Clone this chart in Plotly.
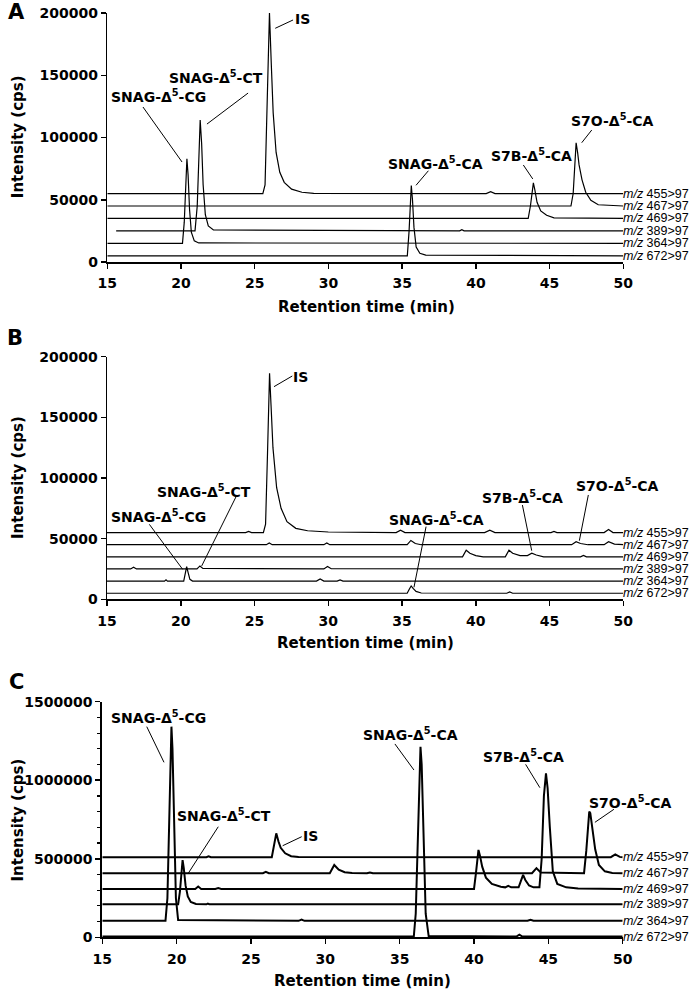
import plotly.graph_objects as go

W, H = 697, 992

channels = ["455>97", "467>97", "469>97", "389>97", "364>97", "672>97"]
x_ticks = [15, 20, 25, 30, 35, 40, 45, 50]
X_MIN, X_MAX = 15, 50

# ---------------- Panel A (retention time min, intensity cps) ----------------
a_t455 = [15, 25.55, 25.7, 25.82, 25.92, 26.0, 26.12, 26.25, 26.45, 26.7, 27.0, 27.5, 28.2, 29.0, 40.7, 41.0, 41.3, 50]
a_i455 = [55000, 55000, 62000, 110000, 170000, 200000, 160000, 120000, 88000, 72000, 64000, 58500, 56000, 55200, 55000, 56500, 55000, 55000]
a_t467 = [15, 46.45, 46.6, 46.72, 46.8, 46.9, 47.0, 47.2, 47.45, 47.8, 48.3, 50]
a_i467 = [45000, 45000, 55000, 85000, 95800, 88000, 78000, 66000, 56000, 49500, 46000, 45000]
a_t469 = [15, 43.55, 43.7, 43.82, 43.9, 44.0, 44.15, 44.4, 44.8, 45.3, 50]
a_i469 = [35000, 35000, 45000, 58000, 63500, 58000, 48000, 41000, 37500, 35500, 35000]
a_t389 = [15.6, 20.95, 21.1, 21.22, 21.3, 21.4, 21.5, 21.65, 21.85, 22.2, 38.9, 39.05, 39.2, 50]
a_i389 = [25000, 25000, 45000, 95000, 114000, 95000, 62000, 38000, 29000, 25800, 25000, 26000, 25000, 25000]
a_t364 = [15, 20.1, 20.22, 20.33, 20.4, 20.48, 20.58, 20.7, 20.9, 21.2, 50]
a_i364 = [15000, 15000, 32000, 70000, 83000, 70000, 42000, 24000, 17000, 15300, 15000]
a_t672 = [15, 35.35, 35.47, 35.56, 35.62, 35.7, 35.8, 35.95, 36.2, 36.6, 50]
a_i672 = [5000, 5000, 25000, 55000, 61500, 50000, 28000, 12000, 7000, 5500, 5000]

# ---------------- Panel B ----------------
b_t455 = [15, 24.4, 24.6, 24.8, 25.6, 25.75, 25.88, 25.96, 26.02, 26.12, 26.25, 26.5, 26.8, 27.2, 27.8, 28.6, 30.0,
          34.6, 34.9, 35.2, 40.6, 40.95, 41.3, 45.1, 45.3, 45.5, 48.7, 49.0, 49.3, 50]
b_i455 = [55000, 55000, 56000, 55000, 55000, 62000, 120000, 175000, 186300, 160000, 125000, 92000, 75000, 64000, 58500, 56500, 55500,
          55000, 57000, 55000, 55000, 57000, 55000, 55000, 56000, 55000, 55000, 57500, 55000, 55000]
b_t467 = [15, 25.8, 26.0, 26.2, 29.7, 29.9, 30.1, 35.35, 35.6, 35.9, 36.3, 46.5, 46.8, 47.1, 47.6, 48.7, 49.0, 49.4, 50]
b_i467 = [45000, 45000, 46500, 45000, 45000, 46500, 45000, 45000, 48500, 46000, 45000, 45000, 47500, 46000, 45000, 45000, 47500, 45500, 45000]
b_t469 = [15, 39.1, 39.35, 39.6, 40.0, 40.5, 42.0, 42.25, 42.5, 43.0, 43.5, 43.8, 44.1, 44.6, 47.1, 47.3, 47.5, 50]
b_i469 = [35000, 35000, 40500, 38000, 36000, 35000, 35000, 40500, 38000, 36000, 36000, 38000, 36500, 35000, 35000, 36200, 35000, 35000]
b_t389 = [15, 16.6, 16.8, 17.0, 21.1, 21.3, 21.5, 29.7, 29.95, 30.2, 50]
b_i389 = [25000, 25000, 26500, 25000, 25000, 27500, 25500, 25000, 27000, 25200, 25000]
b_t364 = [15, 18.9, 19.0, 19.1, 20.2, 20.3, 20.4, 20.5, 20.62, 20.8, 29.2, 29.45, 29.7, 30.6, 30.8, 31.0, 50]
b_i364 = [15000, 15000, 16000, 15000, 15000, 20000, 27000, 22000, 16500, 15000, 15000, 16800, 15000, 15000, 16000, 15000, 15000]
b_t672 = [15, 35.35, 35.5, 35.62, 35.75, 35.95, 36.3, 42.1, 42.3, 42.5, 50]
b_i672 = [5000, 5000, 8500, 11000, 9000, 6500, 5200, 5000, 6000, 5000, 5000]

# ---------------- Panel C ----------------
c_t455 = [15, 22.0, 22.15, 22.3, 26.4, 26.55, 26.7, 26.85, 27.0, 27.3, 27.7, 28.2, 49.2, 49.5, 49.8, 50]
c_i455 = [510000, 510000, 516000, 510000, 510000, 590000, 662000, 610000, 570000, 535000, 516000, 511000, 510000, 528000, 512000, 510000]
c_t467 = [15, 25.8, 26.0, 26.2, 30.3, 30.6, 30.9, 31.3, 31.8, 32.8, 33.0, 33.2, 43.9, 44.2, 44.5,
          47.4, 47.55, 47.68, 47.75, 47.82, 47.95, 48.15, 48.4, 48.8, 49.3, 50]
c_i467 = [408000, 408000, 417000, 408000, 408000, 460000, 430000, 414000, 409000, 408000, 413000, 408000, 408000, 440000, 412000,
          408000, 550000, 760000, 800000, 790000, 700000, 560000, 460000, 420000, 410000, 408000]
c_t469 = [15, 21.25, 21.45, 21.65, 22.6, 22.8, 23.0, 40.0, 40.12, 40.22, 40.3, 40.4, 40.55, 40.8, 41.2, 41.8,
          42.1, 42.3, 42.5, 43.0, 43.15, 43.3, 43.45, 43.7, 44.0, 44.4, 44.55, 44.7, 44.84, 44.95, 45.1, 45.3,
          45.6, 46.2, 47.0, 50]
c_i469 = [308000, 308000, 323000, 308000, 308000, 313000, 308000, 308000, 400000, 520000, 556000, 520000, 450000, 380000, 340000, 322000,
          318000, 328000, 318000, 318000, 360000, 397000, 365000, 330000, 318000, 318000, 500000, 900000, 1044000, 950000, 700000, 420000,
          340000, 318000, 310000, 308000]
c_t389 = [15, 20.1, 20.22, 20.33, 20.4, 20.48, 20.6, 20.75, 20.95, 21.3, 22.0, 22.1, 22.2, 50]
c_i389 = [210000, 210000, 290000, 450000, 492000, 440000, 330000, 260000, 225000, 212000, 210000, 215000, 210000, 210000]
c_t364 = [15, 19.25, 19.38, 19.5, 19.6, 19.65, 19.72, 19.82, 19.95, 20.1, 28.2, 28.4, 28.6, 43.6, 43.8, 44.0, 50]
c_i364 = [105000, 105000, 250000, 800000, 1250000, 1341000, 1200000, 700000, 250000, 110000, 105000, 113000, 105000, 105000, 112000, 105000, 105000]
c_t672 = [15, 35.95, 36.08, 36.2, 36.32, 36.4, 36.48, 36.6, 36.75, 36.95, 42.85, 43.05, 43.25, 50]
c_i672 = [5000, 5000, 150000, 600000, 1100000, 1213000, 1100000, 600000, 150000, 8000, 5000, 17000, 5000, 5000]

# compound labels
compounds = ["SNAG-Δ<sup>5</sup>-CG", "SNAG-Δ<sup>5</sup>-CT", "IS",
             "SNAG-Δ<sup>5</sup>-CA", "S7B-Δ<sup>5</sup>-CA", "S7O-Δ<sup>5</sup>-CA"]

# label placement (text x, text y, leader x0, y0, x1, y1) per panel
a_lab = [(18.44, 133300, 17.42, 124500, 20.07, 80300),
         (22.37, 148600, 21.76, 110800, 24.55, 135700),
         (28.21, 195200, 26.39, 187700, 27.6, 194400),
         (37.23, 79900, 35.94, 61600, 36.78, 73300),
         (43.79, 86200, 43.86, 66700, 43.22, 77900),
         (49.24, 114100, 47.18, 95800, 47.86, 106000)]
b_lab = [(18.46, 68700, 17.87, 61800, 20.13, 24700),
         (21.58, 89300, 21.42, 27500, 23.75, 84600),
         (28.15, 183300, 26.32, 175300, 27.56, 184100),
         (37.31, 66200, 36.63, 59900, 35.81, 9900),
         (43.14, 84600, 43.16, 77700, 43.79, 40100),
         (49.64, 94600, 47.63, 86000, 47.02, 48300)]
c_lab = [(18.78, 1399500, 17.99, 1341000, 19.15, 1114000),
         (23.18, 776800, 22.8, 704000, 20.78, 407500),
         (29.0, 641800, 27.13, 583000, 28.41, 640500),
         (35.73, 1294400, 34.68, 1231000, 35.96, 1065000),
         (43.31, 1154300, 43.47, 1101000, 44.43, 952500),
         (50.52, 863400, 49.41, 815000, 48.13, 732000)]

panels = [
    dict(letter="A", traces=[(a_t455, a_i455), (a_t467, a_i467), (a_t469, a_i469), (a_t389, a_i389), (a_t364, a_i364), (a_t672, a_i672)],
         labels=a_lab, ymax=200000, dtick=50000, minor=None,
         xdom=(107.3, 623.3), ydom=(13, 262), lw=1.2, alw=1.5,
         letter_pos=(16, 12.5), ytitle_pos=(17.5, 136.7), xtitle_pos=(366, 306.5)),
    dict(letter="B", traces=[(b_t455, b_i455), (b_t467, b_i467), (b_t469, b_i469), (b_t389, b_i389), (b_t364, b_i364), (b_t672, b_i672)],
         labels=b_lab, ymax=200000, dtick=50000, minor=None,
         xdom=(107.0, 623.3), ydom=(356.7, 599.3), lw=1.2, alw=1.5,
         letter_pos=(15, 338), ytitle_pos=(17.5, 477.5), xtitle_pos=(365, 643)),
    dict(letter="C", traces=[(c_t455, c_i455), (c_t467, c_i467), (c_t469, c_i469), (c_t389, c_i389), (c_t364, c_i364), (c_t672, c_i672)],
         labels=c_lab, ymax=1500000, dtick=500000, minor=100000,
         xdom=(102.3, 622.7), ydom=(701.7, 937.3), lw=2.0, alw=2.0,
         letter_pos=(16, 682), ytitle_pos=(17.5, 820), xtitle_pos=(362.5, 980.8)),
]

FONT = "DejaVu Sans"
LFONT = "Liberation Sans, Arial"
fig = go.Figure()
annotations = []
shapes = []

for k, p in enumerate(panels):
    sfx = "" if k == 0 else str(k + 1)
    xa, ya = "x" + sfx, "y" + sfx
    for (t, v), ch in zip(p["traces"], channels):
        fig.add_trace(go.Scatter(x=t, y=v, mode="lines", xaxis=xa, yaxis=ya,
                                 line=dict(color="black", width=p["lw"]),
                                 showlegend=False, hoverinfo="skip"))
        annotations.append(dict(x=1.0, y=v[-1], xref=xa + " domain", yref=ya, xanchor="left", yanchor="middle",
                                text="<i>m/z</i> " + ch.replace(">", "&gt;"), showarrow=False,
                                font=dict(family=LFONT, size=12.5, color="black"), borderpad=0, xshift=-1))
    for name, (tx, ty, lx0, ly0, lx1, ly1) in zip(compounds, p["labels"]):
        annotations.append(dict(x=(tx - X_MIN) / (X_MAX - X_MIN), y=ty, xref=xa + " domain", yref=ya,
                                xanchor="center", yanchor="middle", text=name, showarrow=False,
                                font=dict(family=FONT, size=14, color="black", weight="bold")))
        shapes.append(dict(type="line", x0=lx0, y0=ly0, x1=lx1, y1=ly1, xref=xa, yref=ya,
                           line=dict(color="black", width=1)))
    x0, x1 = p["xdom"]
    y0, y1 = p["ydom"]
    xaxis = dict(domain=[x0 / W, x1 / W], range=[X_MIN, X_MAX], tickvals=x_ticks, ticks="outside", ticklen=5,
                 tickwidth=1.5, tickcolor="black", showline=True, linecolor="black", linewidth=p["alw"],
                 showgrid=False, zeroline=False, anchor=ya, ticklabelstandoff=3, automargin=False,
                 tickfont=dict(family=FONT, size=14, color="black", weight="bold"))
    yaxis = dict(domain=[1 - y1 / H, 1 - y0 / H], range=[0, p["ymax"]], dtick=p["dtick"], tick0=0,
                 ticks="outside", ticklen=5, tickwidth=1.5, tickcolor="black", showline=True,
                 linecolor="black", linewidth=p["alw"], showgrid=False, zeroline=False, anchor=xa,
                 automargin=False, tickformat="d",
                 tickfont=dict(family=FONT, size=14, color="black", weight="bold"))
    if p["minor"]:
        yaxis["minor"] = dict(dtick=p["minor"], ticks="outside", ticklen=3, tickwidth=1.2, tickcolor="black", showgrid=False)
    fig.update_layout(**{"xaxis" + sfx: xaxis, "yaxis" + sfx: yaxis})

    lx, ly = p["letter_pos"]
    annotations.append(dict(x=lx / W, y=1 - ly / H, xref="paper", yref="paper", text=p["letter"],
                            showarrow=False, xanchor="center", yanchor="middle",
                            font=dict(family=FONT, size=21, color="black", weight="bold")))
    tx, ty = p["ytitle_pos"]
    annotations.append(dict(x=tx / W, y=1 - ty / H, xref="paper", yref="paper", text="Intensity (cps)",
                            showarrow=False, xanchor="center", yanchor="middle", textangle=-90,
                            font=dict(family=FONT, size=15, color="black", weight="bold")))
    tx, ty = p["xtitle_pos"]
    annotations.append(dict(x=tx / W, y=1 - ty / H, xref="paper", yref="paper", text="Retention time (min)",
                            showarrow=False, xanchor="center", yanchor="middle",
                            font=dict(family=FONT, size=15, color="black", weight="bold")))

fig.update_layout(width=W, height=H, autosize=False, margin=dict(l=0, r=0, t=0, b=0),
                  paper_bgcolor="white", plot_bgcolor="white", template="none",
                  annotations=annotations, shapes=shapes, showlegend=False)

fig.write_html("out.html", config={"displayModeBar": False, "staticPlot": True},
               post_script="document.body.style.margin='0px';document.body.style.padding='0px';")
